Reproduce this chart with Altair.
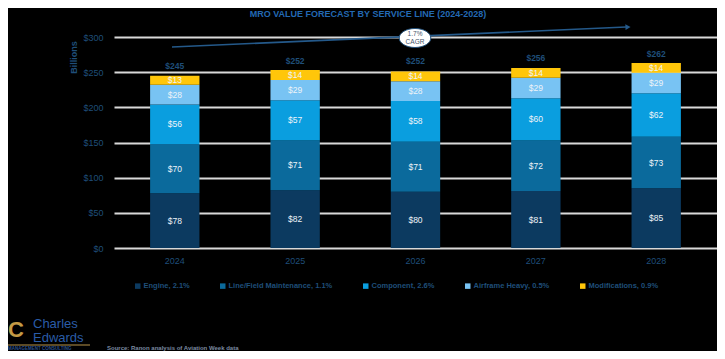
import altair as alt
import pandas as pd

years = ["2024", "2025", "2026", "2027", "2028"]
segments = ["Engine", "Line/Field Maintenance", "Component", "Airframe Heavy", "Modifications"]
legend_labels = ["Engine, 2.1%", "Line/Field Maintenance, 1.1%", "Component, 2.6%",
                 "Airframe Heavy, 0.5%", "Modifications, 0.9%"]
engine = [78, 82, 80, 81, 85]
line_field = [70, 71, 71, 72, 73]
component = [56, 57, 58, 60, 62]
airframe = [28, 29, 28, 29, 29]
modifications = [13, 14, 14, 14, 14]
totals = [245, 252, 252, 256, 262]
y_ticks = [0, 50, 100, 150, 200, 250, 300]
colors = ["#0c3a60", "#0b6a9c", "#0a9edf", "#78c3f3", "#ffc60a"]

title_text = "MRO VALUE FORECAST BY SERVICE LINE (2024-2028)"
cagr_lines = ["1.7%", "CAGR"]
source_text = "Source: Ranon analysis of Aviation Week data"

series = [engine, line_field, component, airframe, modifications]
rows = []
for si, (lab, vals) in enumerate(zip(legend_labels, series)):
    for yr, v in zip(years, vals):
        rows.append({"year": yr, "segment": lab, "value": v, "order": si})
df = pd.DataFrame(rows)
tot_df = pd.DataFrame({"year": years, "total": totals})
one = pd.DataFrame({"a": [0]})

FONT = "Liberation Sans"
BLUE = "#1f4e79"

x_axis = alt.Axis(title=None, labelColor=BLUE, labelFontSize=9, labelFont=FONT,
                  labelAngle=0, domain=False, ticks=False, labelPadding=8, grid=False)
x_scale = alt.Scale(paddingInner=0.59, paddingOuter=0.3)
y_axis = alt.Axis(title="Billions", values=y_ticks, labelOverlap=False, tickCount=7,
                  labelExpr="'$' + datum.value", labelColor=BLUE, labelFontSize=9,
                  labelFont=FONT, domain=False, ticks=False, labelPadding=11,
                  grid=True, gridColor="#d9d9d9", gridWidth=2,
                  titleColor=BLUE, titleFontSize=9, titleFont=FONT, titleFontWeight="bold",
                  titleAngle=-90, titleX=-41, titleY=20, titleAlign="center",
                  titleBaseline="middle")
y_scale = alt.Scale(domain=[0, 300], nice=False)

bars = alt.Chart(df).mark_bar().encode(
    x=alt.X("year:N", sort=years, scale=x_scale, axis=x_axis),
    y=alt.Y("value:Q", stack="zero", scale=y_scale, axis=y_axis),
    color=alt.Color("segment:N", sort=legend_labels,
                    scale=alt.Scale(domain=legend_labels, range=colors),
                    legend=alt.Legend(title=None, orient="none", legendX=20, legendY=245,
                                      direction="horizontal", symbolType="square",
                                      symbolSize=30, symbolStrokeWidth=0,
                                      labelColor=BLUE, labelFontSize=7.5, labelFont=FONT,
                                      labelFontWeight="bold", columnPadding=29,
                                      symbolOffset=0, labelOffset=2)),
    order=alt.Order("order:Q", sort="ascending"),
)

seg_text = alt.Chart(df).transform_stack(
    stack="value", groupby=["year"], as_=["y0", "y1"],
    sort=[alt.SortField("order", order="ascending")]
).transform_calculate(
    mid="(datum.y0 + datum.y1) / 2", lab="'$' + datum.value"
).mark_text(color="#eef3f8", fontSize=8.5, font=FONT).encode(
    x=alt.X("year:N", sort=years, scale=x_scale, axis=x_axis),
    y=alt.Y("mid:Q", scale=y_scale, axis=y_axis), text="lab:N")

tot_text = alt.Chart(tot_df).transform_calculate(lab="'$' + datum.total").mark_text(
    color=BLUE, fontSize=8.5, font=FONT, dy=-10, fontWeight="bold").encode(
    x=alt.X("year:N", sort=years, scale=x_scale, axis=x_axis),
    y=alt.Y("total:Q", scale=y_scale, axis=y_axis), text="lab:N")

arrow_line = alt.Chart(one).mark_rule(color="#24598a", strokeWidth=1.6).encode(
    x=alt.value(58), x2=alt.value(512), y=alt.value(10), y2=alt.value(-10))
arrow_head = alt.Chart(one).mark_point(shape="triangle-right", filled=True, size=35,
                                       color="#24598a", opacity=1, angle=357.5).encode(
    x=alt.value(514), y=alt.value(-10))
ellipse = alt.Chart(one).mark_point(
    shape="M -1 0 A 1 0.6 0 1 0 1 0 A 1 0.6 0 1 0 -1 0 Z",
    size=1000, filled=True, fill="white", stroke=BLUE, strokeWidth=1, opacity=1).encode(
    x=alt.value(301), y=alt.value(1))
cagr1 = alt.Chart(one).mark_text(text=cagr_lines[0], fontSize=6.5, font=FONT, color="#44546a").encode(
    x=alt.value(301), y=alt.value(-3))
cagr2 = alt.Chart(one).mark_text(text=cagr_lines[1], fontSize=6.5, font=FONT, color="#44546a").encode(
    x=alt.value(301), y=alt.value(5))

title = alt.Chart(one).mark_text(text=title_text, fontSize=9, font=FONT, fontWeight="bold",
                                 color="#2369b3").encode(x=alt.value(254), y=alt.value(-23))
source = alt.Chart(one).mark_text(text=source_text, fontSize=6, font=FONT, fontWeight="bold",
                                  color="#7b8aa0", align="left").encode(
    x=alt.value(-7), y=alt.value(311))
logo_c = alt.Chart(one).mark_text(text="C", fontSize=22, font=FONT, fontWeight="bold",
                                  color="#c39a45", align="left", baseline="alphabetic").encode(
    x=alt.value(-106), y=alt.value(300))
logo1 = alt.Chart(one).mark_text(text="Charles", fontSize=13, font=FONT, color="#2a5ca8",
                                 align="left", baseline="alphabetic").encode(
    x=alt.value(-81), y=alt.value(291))
logo2 = alt.Chart(one).mark_text(text="Edwards", fontSize=13, font=FONT, color="#2a5ca8",
                                 align="left", baseline="alphabetic").encode(
    x=alt.value(-81), y=alt.value(305))
logo_bar = alt.Chart(one).mark_rule(color="#b8944a", strokeWidth=1).encode(
    x=alt.value(-106), x2=alt.value(-24), y=alt.value(308))
logo3 = alt.Chart(one).mark_text(text="MANAGEMENT   CONSULTING", fontSize=4.5, font=FONT,
                                 fontWeight="bold", color="#2a4f8f", align="left").encode(
    x=alt.value(-106), y=alt.value(311.5))

chart = alt.layer(
    bars, seg_text, tot_text, arrow_line, arrow_head, ellipse, cagr1, cagr2,
    title, source, logo_c, logo1, logo2, logo_bar, logo3
).properties(
    width=603, height=211,
    autosize=alt.AutoSizeParams(type="none"),
    padding={"left": 106, "top": 29, "right": 0, "bottom": 103},
    background="black",
).configure_view(stroke=None)

chart.save("out.html", embed_options={"renderer": "svg", "actions": False})
